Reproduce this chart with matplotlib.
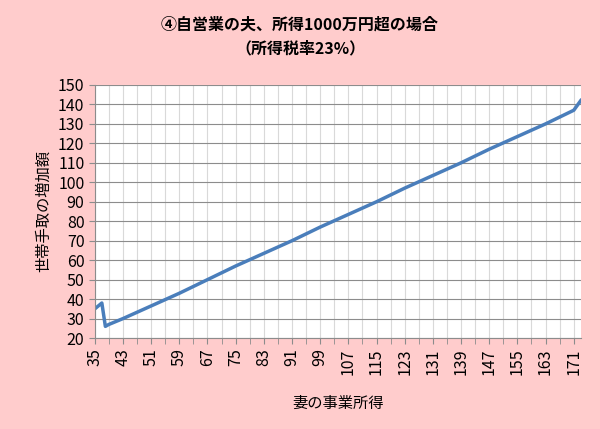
import matplotlib.pyplot as plt
import numpy as np

plt.rcParams['font.family'] = ['Noto Sans CJK JP', 'DejaVu Sans']

# Data (wife's business income vs. household take-home increase)
income = [35, 37, 38, 39, 43, 51, 59, 67, 75, 83, 91, 99, 107, 115, 123, 131, 139, 147, 155, 163, 171, 173]
increase = [35, 38, 26, 27, 30, 36.5, 43, 50, 57, 63.5, 70, 77, 83.5, 90, 97, 103.5, 110, 117, 123.5, 130, 137, 142]
xlabels = list(range(35, 172, 8))

fig = plt.figure(figsize=(6, 4.29), dpi=100)
fig.patch.set_facecolor('#FFCCCC')
ax = fig.add_axes([0.158, 0.212, 0.81, 0.59])

ax.plot(income, increase, color='#4A7EBB', linewidth=2.5)
ax.set_xlim(35, 173)
ax.set_ylim(20, 150)
ax.set_yticks(range(20, 151, 10))
ax.set_xticks(xlabels)
ax.set_xticks(range(39, 173, 8), minor=True)
ax.set_xticklabels([str(v) for v in xlabels], rotation=90)
ax.yaxis.grid(True, color='#8C8C8C', linewidth=0.8)
ax.xaxis.grid(True, which='both', color='#D9D9D9', linewidth=0.8)
ax.set_axisbelow(True)
for s in ['top', 'right']:
    ax.spines[s].set_visible(False)
for s in ['left', 'bottom']:
    ax.spines[s].set_color('#8C8C8C')
ax.tick_params(which='both', colors='#8C8C8C', labelcolor='black', labelsize=11.5, length=4)

ax.set_ylabel('世帯手取の増加額', fontsize=11)
ax.set_xlabel('妻の事業所得', fontsize=11, labelpad=14)
fig.text(0.5, 0.93, '④自営業の夫、所得1000万円超の場合', ha='center', fontsize=11.5, fontweight='bold')
fig.text(0.5, 0.875, '（所得税率23%）', ha='center', fontsize=11.5, fontweight='bold')

fig.savefig('out.png', dpi=100, facecolor=fig.get_facecolor())
